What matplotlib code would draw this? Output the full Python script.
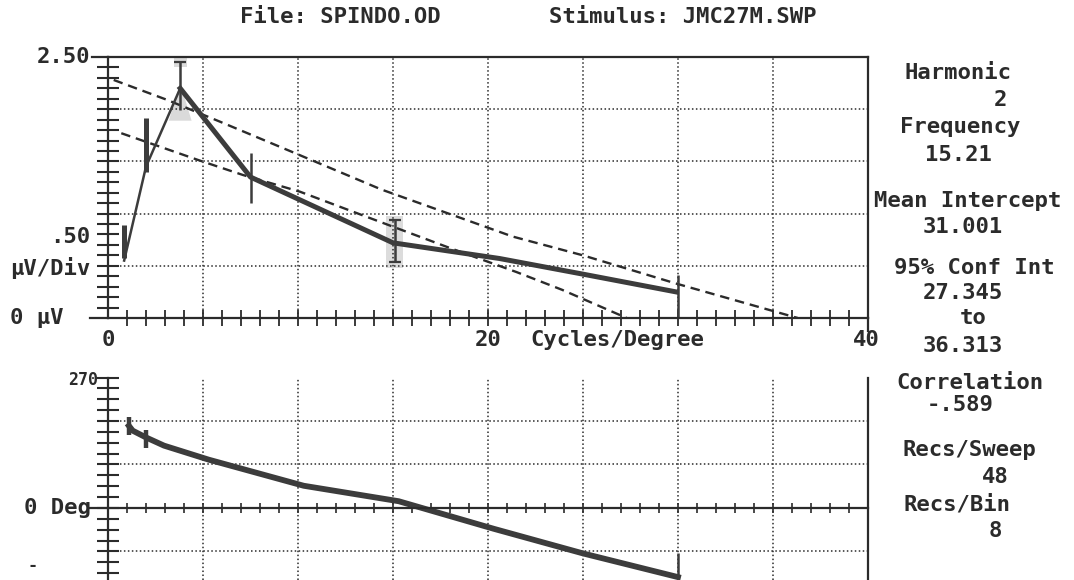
import matplotlib
matplotlib.use("Agg")
import matplotlib.pyplot as plt
import numpy as np

plt.rcParams['font.family'] = ['DejaVu Sans Mono', 'DejaVu Sans']

W, H = 1074, 580
INK = "#2b2b2b"
CURVE = "#3c3c3c"

# amplitude sweep (top plot): uV vs cycles/degree
amp_cpd = [0.85, 2.0, 3.8, 7.5, 15.0, 20.6, 25.0, 29.9]
amp_uv = [0.55, 1.45, 2.20, 1.35, 0.72, 0.57, 0.42, 0.25]
peak_idx = 2

# error bars on some of the points
err_cpd = [0.85, 2.0, 3.8, 7.5, 15.1]
err_lo = [0.57, 1.40, 1.99, 1.10, 0.54]
err_hi = [0.89, 1.92, 2.45, 1.58, 0.94]
shaded = [2, 4]  # the two that were highlighted

# confidence lines of the regression
ci_up_cpd = [0.3, 3.1, 5.9, 9.7, 14.4, 21.3, 25.0, 29.9, 36.3]
ci_up_uv = [2.28, 2.09, 1.88, 1.59, 1.23, 0.78, 0.60, 0.33, 0.0]
ci_dn_cpd = [0.7, 4.8, 7.1, 10.1, 13.6, 18.0, 21.5, 23.9, 27.3]
ci_dn_uv = [1.77, 1.51, 1.37, 1.21, 0.97, 0.67, 0.44, 0.27, 0.0]

sweep_end = 30.0
end_mark_uv = 0.41
end_mark_deg = -93

# phase (bottom plot): degrees
ph_cpd = [1.1, 1.3, 2.0, 2.95, 5.3, 10.3, 15.3, 20.3, 25.0, 30.0]
ph_deg = [170, 160, 146, 129, 100, 46, 14, -43, -94, -143]
ph_err_cpd = [1.1, 2.0]
ph_err_lo = [150, 125]
ph_err_hi = [189, 161]

file_name = "SPINDO.OD"
stim_name = "JMC27M.SWP"
info_text = ["Harmonic", "2", "Frequency", "15.21", "Mean Intercept", "31.001",
             "95% Conf Int", "27.345", "to", "36.313", "Correlation", "-.589",
             "Recs/Sweep", "48", "Recs/Bin", "8"]
# pixel centres of the side panel lines
info_xy = [(958, 73), (1000, 100), (960, 127), (958, 155), (968, 201), (963, 227),
           (974, 268), (963, 293), (973, 318), (963, 346), (970, 383), (960, 405),
           (969, 450), (995, 477), (957, 505), (995, 531)]


def fx(px):
    return px / W


def fy(py):
    return 1 - py / H


def label(px, py, s, ha="center", size=16):
    fig.text(fx(px), fy(py), s, ha=ha, va="center", fontsize=size,
             fontweight="bold", color=INK)


fig = plt.figure(figsize=(W / 100, H / 100), dpi=100)
fig.patch.set_facecolor("white")

dots = (0, (1, 1.6))

# ---------------- top: amplitude ----------------
ax = fig.add_axes([fx(108), fy(318), 760 / W, (318 - 57) / H])
ax.set_xlim(0, 40)
ax.set_ylim(0, 2.5)
for s in ax.spines.values():
    s.set_linewidth(1.6)
    s.set_color(INK)
ax.set_xticks(range(1, 40))
ax.set_yticks(np.arange(0.1, 2.45, 0.1))
ax.tick_params(axis='x', direction='inout', length=11, width=1.3, color=INK,
               labelbottom=False)
ax.tick_params(axis='y', direction='inout', length=16, width=1.5, color=INK,
               labelleft=False)

ax.vlines(range(5, 40, 5), 0, 2.5, colors=INK, linestyles=dots, lw=1.1)
ax.hlines([0.5, 1.0, 1.5, 2.0], 0, 40, colors=INK, linestyles=dots, lw=1.1)

# faint highlight left on two of the bars (peak one is a small triangle)
pk = shaded[0]
ax.fill([err_cpd[pk] - 0.6, err_cpd[pk], err_cpd[pk] + 0.6],
        [err_lo[pk] - 0.1, amp_uv[peak_idx] + 0.05, err_lo[pk] - 0.1],
        color="#dadada", lw=0, zorder=0.5)
ax.fill_betweenx([err_hi[pk] - 0.05, err_hi[pk] + 0.05], err_cpd[pk] - 0.35,
                 err_cpd[pk] + 0.35, color="#dadada", lw=0, zorder=0.5)
i = shaded[1]
ax.fill_betweenx([err_lo[i] - 0.06, err_hi[i] + 0.04], err_cpd[i] - 0.45,
                 err_cpd[i] + 0.45, color="#dcdcdc", lw=0, zorder=0.5)

ax.plot(ci_up_cpd, ci_up_uv, color=INK, lw=1.7, ls=(0, (4, 2.5)))
ax.plot(ci_dn_cpd, ci_dn_uv, color=INK, lw=1.7, ls=(0, (4, 2.5)))

ax.plot(amp_cpd[:peak_idx + 1], amp_uv[:peak_idx + 1], color=CURVE, lw=1.8)
ax.plot(amp_cpd[peak_idx:], amp_uv[peak_idx:], color=CURVE, lw=3.6)

ax.vlines(err_cpd[:2], err_lo[:2], err_hi[:2], colors=CURVE, lw=3.6)
ax.vlines(err_cpd[2:], err_lo[2:], err_hi[2:], colors=CURVE, lw=1.8)
ax.plot([err_cpd[i] for i in shaded], [err_hi[i] for i in shaded], ls="none",
        marker="_", ms=9, mew=1.6, color=CURVE)
ax.plot([err_cpd[4]], [err_lo[4]], ls="none", marker="_", ms=9, mew=1.6, color=CURVE)
ax.vlines(sweep_end, 0, end_mark_uv, colors=CURVE, lw=1.8)

# axis lines run a little past the y axis, as on the screen
ax.plot([-0.021, 0], [1, 1], transform=ax.transAxes, clip_on=False, color=INK, lw=1.6)
ax.plot([-0.024, 0], [0, 0], transform=ax.transAxes, clip_on=False, color=INK, lw=1.6)
ax.plot([1, 1], [-0.05, 0], transform=ax.transAxes, clip_on=False, color=INK, lw=1.6)

# ---------------- bottom: phase ----------------
ax2 = fig.add_axes([fx(108), 0, 760 / W, (580 - 377.5) / H])
ax2.set_xlim(0, 40)
ax2.set_ylim(-149, 270)
ax2.spines['top'].set_visible(False)
ax2.spines['bottom'].set_position(('data', 0))
for s in ax2.spines.values():
    s.set_linewidth(1.6)
    s.set_color(INK)
ax2.set_xticks(range(1, 40))
ax2.set_yticks(np.arange(-135, 271, 22.5))
ax2.tick_params(axis='x', direction='inout', length=7, width=1.2, color=INK,
                labelbottom=False)
ax2.tick_params(axis='y', direction='inout', length=16, width=1.5, color=INK,
                labelleft=False)

ax2.vlines(range(5, 40, 5), -149, 270, colors=INK, linestyles=dots, lw=1.1)
ax2.hlines([180, 90, -90], 0, 40, colors=INK, linestyles=dots, lw=1.1)

ax2.plot(ph_cpd, ph_deg, color=CURVE, lw=4.2)
ax2.vlines(ph_err_cpd, ph_err_lo, ph_err_hi, colors=CURVE, lw=3.2)
ax2.vlines(sweep_end, -149, end_mark_deg, colors=CURVE, lw=1.8)
ax2.plot([-0.024, 0], [0, 0], transform=ax2.get_yaxis_transform(), clip_on=False,
         color=INK, lw=1.6)

# ---------------- text ----------------
label(340, 17, "File: " + file_name)
label(549, 17, "Stimulus: " + stim_name, ha="left")

label(90, 57, "2.50", ha="right")
label(90, 237, ".50", ha="right")
label(90, 268, "\u00b5V/Div", ha="right")
label(10, 318, "0 \u00b5V", ha="left")
label(108, 340, "0")
label(488, 340, "20")
label(866, 340, "40")
label(530, 340, "Cycles/Degree", ha="left")
label(98, 380, "270", ha="right", size=12)
label(91, 508, "0 Deg", ha="right")
label(33, 566, "-", size=12)

for s, (px, py) in zip(info_text, info_xy):
    label(px, py, s)

fig.savefig("out.png", dpi=100)
